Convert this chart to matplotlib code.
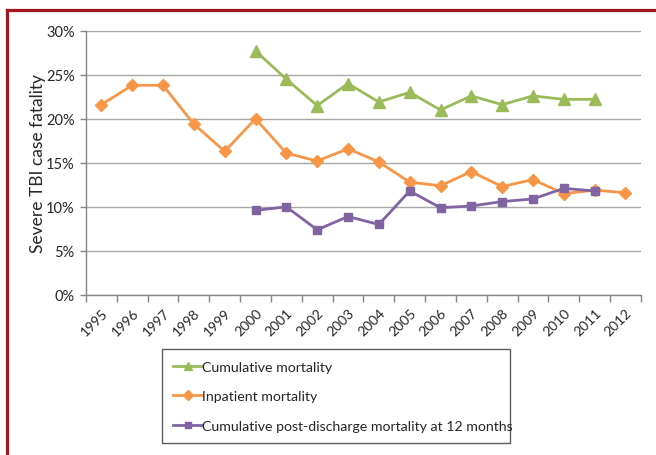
import matplotlib
matplotlib.use("Agg")
import matplotlib.pyplot as plt
from matplotlib.lines import Line2D
from matplotlib.ticker import FixedLocator, FuncFormatter
import numpy as np

plt.rcParams['font.family'] = ['Lato', 'DejaVu Sans']

# Categories on the x axis
years = [str(y) for y in range(1995, 2013)]

# Cumulative mortality (%)
cumulative_years = [str(y) for y in range(2000, 2012)]
cumulative = [27.7, 24.5, 21.5, 24.0, 21.9, 23.0, 21.0, 22.6, 21.6, 22.6, 22.2, 22.2]

# Inpatient mortality (%)
inpatient_years = [str(y) for y in range(1995, 2013)]
inpatient = [21.6, 23.8, 23.8, 19.4, 16.3, 20.0, 16.1, 15.2, 16.6, 15.1,
             12.8, 12.4, 14.0, 12.3, 13.1, 11.5, 11.9, 11.6]

# Cumulative post-discharge mortality at 12 months (%)
postdischarge_years = [str(y) for y in range(2000, 2012)]
postdischarge = [9.6, 10.0, 7.4, 8.9, 8.0, 11.8, 9.9, 10.1, 10.6, 10.9, 12.1, 11.8]

y_ticks = [0, 5, 10, 15, 20, 25, 30]

GREEN = '#9BBB59'
ORANGE = '#F79646'
PURPLE = '#8064A2'
AXIS_GRAY = '#868686'
FRAME_RED = '#A3141E'

fig = plt.figure(figsize=(6.56, 4.56), dpi=100)
ax = fig.add_axes([0.131, 0.351, 0.846, 0.5795])

def pos(labels):
    return [years.index(l) for l in labels]

ax.plot(pos(cumulative_years), cumulative, color=GREEN, lw=2.0,
        marker='^', ms=8, label='Cumulative mortality', zorder=3)
ax.plot(pos(inpatient_years), inpatient, color=ORANGE, lw=2.0,
        marker='D', ms=6, label='Inpatient mortality', zorder=3)
ax.plot(pos(postdischarge_years), postdischarge, color=PURPLE, lw=2.0,
        marker='s', ms=6, label='Cumulative post-discharge mortality at 12 months',
        zorder=3)

ax.set_xlim(-0.5, len(years) - 0.5)
ax.set_ylim(0, 30)

# Tick marks at category boundaries, labels at category centres
ax.xaxis.set_major_locator(FixedLocator(np.arange(-0.5, len(years), 1.0)))
ax.xaxis.set_major_formatter(FuncFormatter(lambda v, p: ''))
ax.set_xticks(np.arange(len(years)), minor=True)
ax.set_xticklabels(years, minor=True, rotation=45, ha='right',
                   rotation_mode='anchor', fontsize=10, color='#262626')
ax.tick_params(axis='x', which='major', length=5, color=AXIS_GRAY, width=1)
ax.tick_params(axis='x', which='minor', length=0, pad=8)

ax.set_yticks(y_ticks)
ax.yaxis.set_major_formatter(FuncFormatter(lambda v, p: f'{int(v)}%'))
ax.tick_params(axis='y', length=4, color=AXIS_GRAY, width=1,
               labelsize=10.5, labelcolor='#262626', pad=4)

ax.set_ylabel('Severe TBI case fatality', fontsize=12.5, color='#262626', labelpad=0)

ax.grid(axis='y', color='#A6A6A6', lw=1.0, zorder=0)
ax.set_axisbelow(True)
for side in ('top', 'right'):
    ax.spines[side].set_visible(False)
for side in ('left', 'bottom'):
    ax.spines[side].set_color(AXIS_GRAY)
    ax.spines[side].set_linewidth(1.0)

leg = fig.legend(loc='upper left', bbox_to_anchor=(0.247, 0.035, 0.530, 0.197),
                 mode='expand', frameon=True, fancybox=False, fontsize=10.2,
                 handlelength=2.0, handletextpad=0.05, labelspacing=1.25,
                 borderpad=0.8, markerscale=0.8, borderaxespad=0)
leg.get_frame().set_edgecolor('#333333')
leg.get_frame().set_linewidth(1.0)
for t in leg.get_texts():
    t.set_color('#262626')

# Red page frame on the left and top
fig.add_artist(Line2D([6.5 / 656, 6.5 / 656], [0, 1 - 10.5 / 456],
                      transform=fig.transFigure, color=FRAME_RED, lw=2.3,
                      solid_capstyle='projecting'))
fig.add_artist(Line2D([6.5 / 656, 1], [1 - 10.5 / 456, 1 - 10.5 / 456],
                      transform=fig.transFigure, color=FRAME_RED, lw=2.3,
                      solid_capstyle='projecting'))

fig.savefig('out.png', dpi=100)
